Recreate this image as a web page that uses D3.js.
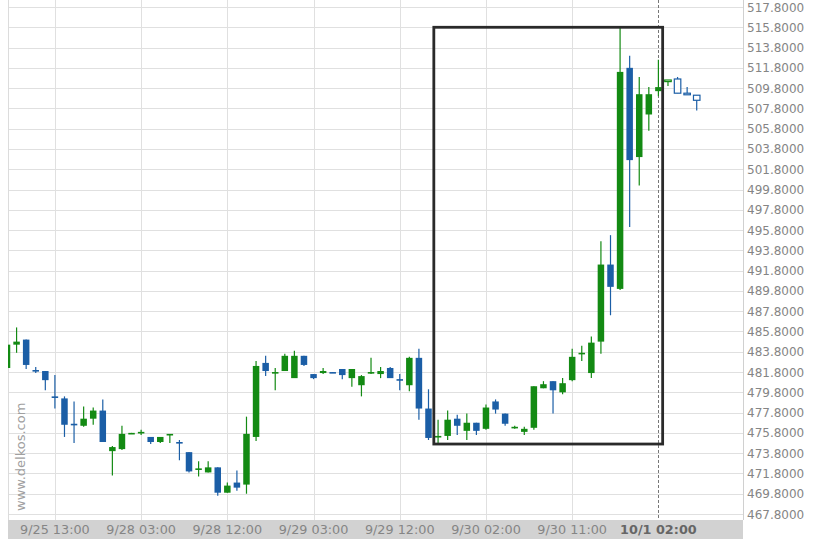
<!DOCTYPE html>
<html>
<head>
<meta charset="utf-8">
<script src="https://cdn.jsdelivr.net/npm/d3@7/dist/d3.min.js"></script>
<style>
  html, body { margin: 0; padding: 0; background: #ffffff; }
  svg { display: block; }
</style>
</head>
<body>
<svg id="chart" width="822" height="548"></svg>
<script>
// ---------- DATA ----------
const opens  = [482.2,484.5,485.0,482.0,481.9,479.4,479.2,476.7,476.5,477.2,
                478.0,474.0,474.2,475.7,475.8,475.4,474.9,475.6,474.9,473.9,
                472.2,471.9,472.4,469.9,470.9,470.7,475.4,482.7,481.7,481.9,
                481.2,483.4,481.6,481.7,481.8,482.1,481.2,480.5,481.7,481.6,
                482.2,481.1,480.5,483.2,478.2,475.4,475.5,477.2,476.0,476.8,
                476.2,478.9,477.7,476.3,475.9,476.3,480.2,480.9,479.8,481.0,
                483.6,481.7,484.8,492.4,490.0,511.8,503.0,507.2,509.5,510.5,
                510.7,509.3,509.1];
const highs  = [484.5,486.2,485.0,482.3,481.9,481.5,479.4,478.9,478.4,478.3,
                479.1,474.5,476.5,475.8,476.1,475.4,475.4,475.7,475.1,473.9,
                473.0,473.0,472.4,470.9,472.1,477.4,482.9,483.4,482.2,483.6,
                483.9,483.4,481.6,482.2,481.8,482.1,482.1,481.5,483.2,482.3,
                482.3,481.6,483.3,484.1,480.1,477.1,478.0,477.6,477.7,476.8,
                478.6,479.1,477.7,476.5,476.4,480.4,480.9,480.9,481.2,484.1,
                484.4,485.3,494.7,495.3,515.8,513.0,510.9,509.9,512.6,510.6,
                510.9,509.9,509.1];
const lows   = [482.2,483.7,482.1,481.7,480.0,478.2,475.4,474.8,476.4,476.6,
                474.9,471.6,474.1,475.7,475.6,474.7,474.8,474.8,473.1,471.9,
                471.5,471.9,469.6,469.9,470.1,469.8,475.0,481.4,480.0,481.9,
                481.2,482.4,481.1,481.6,481.7,481.1,480.35,479.4,481.6,481.2,
                481.2,480.0,479.9,477.1,475.1,474.7,475.1,475.6,475.1,475.6,
                476.1,477.7,476.5,476.2,475.6,476.1,480.2,477.7,479.6,480.9,
                482.9,481.2,483.6,487.4,489.9,496.1,500.2,505.6,509.0,510.0,
                509.3,509.2,507.6];
const closes = [484.5,484.8,482.5,481.9,481.0,479.3,476.6,476.6,477.2,478.0,
                474.9,474.4,475.7,475.8,475.9,474.9,475.4,475.7,474.8,472.0,
                472.3,472.4,469.9,470.6,470.4,475.7,482.4,481.9,481.8,483.4,
                483.4,482.5,481.2,481.9,481.7,481.5,482.1,481.4,481.8,481.9,
                481.2,481.0,483.2,478.2,475.3,475.5,477.1,476.5,476.8,476.0,
                478.3,478.1,476.7,476.4,476.2,480.4,480.6,480.0,480.7,483.3,
                483.7,484.7,492.4,490.2,511.4,502.7,509.2,509.2,509.9,510.6,
                509.3,509.2,508.6];
const firstHollow = 69;          // candles after the current bar are drawn hollow
const boxStart = 45, boxEnd = 68; // highlighted pattern range
const currentBar = 68;           // dashed marker

const xTickIdx    = [5, 14, 23, 32, 41, 50, 59, 68];
const xTickLabels = ["9/25 13:00","9/28 03:00","9/28 12:00","9/29 03:00",
                     "9/29 12:00","9/30 02:00","9/30 11:00","10/1 02:00"];
const yTicks = d3.range(0, 26).map(k => 467.8 + 2 * k);

// ---------- LAYOUT ----------
const plot = { left: 8, right: 743, top: 0, bottom: 520 };
const GREEN = "#138a13", BLUE = "#1b5ea6";

const svg = d3.select("#chart");

const x = d3.scaleLinear().domain([0, 68]).range([7.0, 658.4]);
const y = d3.scaleLinear().domain([467.8, 517.8]).range([514, 7]);

svg.append("defs").append("clipPath").attr("id", "clip")
  .append("rect").attr("x", plot.left).attr("y", plot.top)
  .attr("width", plot.right - plot.left).attr("height", plot.bottom - plot.top);

// grid
const grid = svg.append("g");
grid.selectAll("line.h").data(yTicks).enter().append("line")
  .attr("x1", plot.left).attr("x2", plot.right)
  .attr("y1", d => Math.round(y(d)) + 0.5).attr("y2", d => Math.round(y(d)) + 0.5)
  .attr("stroke", "#e0e0e0").attr("stroke-width", 1);
grid.selectAll("line.v").data(xTickIdx.slice(0, -1)).enter().append("line")
  .attr("x1", d => Math.round(x(d)) + 0.5).attr("x2", d => Math.round(x(d)) + 0.5)
  .attr("y1", plot.top).attr("y2", plot.bottom)
  .attr("stroke", "#e0e0e0").attr("stroke-width", 1);

// plot border lines (left & right)
svg.append("line").attr("x1", plot.left + 0.5).attr("x2", plot.left + 0.5)
  .attr("y1", plot.top).attr("y2", plot.bottom).attr("stroke", "#dcdcdc");
svg.append("line").attr("x1", plot.right + 0.5).attr("x2", plot.right + 0.5)
  .attr("y1", plot.top).attr("y2", plot.bottom).attr("stroke", "#d0d0d0");

// watermark
svg.append("text")
  .attr("transform", "translate(25,511) rotate(-90)")
  .attr("font-family", "DejaVu Sans, sans-serif").attr("font-size", 13)
  .attr("fill", "#a0a0a0").text("www.delkos.com");

// current bar dashed marker
svg.append("line")
  .attr("x1", Math.round(x(currentBar)) + 0.5).attr("x2", Math.round(x(currentBar)) + 0.5)
  .attr("y1", plot.top).attr("y2", plot.bottom)
  .attr("stroke", "#777").attr("stroke-width", 1).attr("stroke-dasharray", "3,2");

// candles
const data = opens.map((o, i) => ({ i, o, h: highs[i], l: lows[i], c: closes[i] }));
const cg = svg.append("g").attr("clip-path", "url(#clip)");
const bw = 6.5;
const candle = cg.selectAll("g.c").data(data).enter().append("g");
candle.append("line")
  .attr("x1", d => x(d.i)).attr("x2", d => x(d.i))
  .attr("y1", d => y(d.h)).attr("y2", d => y(d.l))
  .attr("stroke", d => d.c >= d.o ? GREEN : BLUE).attr("stroke-width", 1.2);
candle.append("rect")
  .attr("x", d => x(d.i) - bw / 2)
  .attr("y", d => y(Math.max(d.o, d.c)))
  .attr("width", bw)
  .attr("height", d => Math.max(1.6, Math.abs(y(d.o) - y(d.c))))
  .attr("fill", d => d.i >= firstHollow ? "#ffffff" : (d.c >= d.o ? GREEN : BLUE))
  .attr("stroke", d => d.i >= firstHollow ? (d.c >= d.o ? GREEN : BLUE) : "none")
  .attr("stroke-width", 1.2);

// highlight box
const boxHigh = d3.max(highs.slice(boxStart, boxEnd + 1));
const boxLow = d3.min(lows.slice(boxStart, boxEnd + 1));
svg.append("rect")
  .attr("x", x(boxStart) - bw / 2 - 1).attr("y", y(boxHigh))
  .attr("width", (x(boxEnd) + bw / 2 + 1) - (x(boxStart) - bw / 2 - 1))
  .attr("height", y(boxLow) - y(boxHigh))
  .attr("fill", "none").attr("stroke", "#2a2a2a").attr("stroke-width", 2.8);

// x axis band
svg.append("rect").attr("x", plot.left).attr("y", plot.bottom)
  .attr("width", plot.right - plot.left).attr("height", 19).attr("fill", "#d2d2d2");
const xa = svg.append("g");
xa.selectAll("text").data(xTickIdx).enter().append("text")
  .attr("x", d => x(d)).attr("y", plot.bottom + 14)
  .attr("text-anchor", "middle")
  .attr("font-family", "DejaVu Sans, sans-serif").attr("font-size", 12.8)
  .attr("font-weight", (d, k) => k === xTickIdx.length - 1 ? "bold" : "normal")
  .attr("fill", (d, k) => k === xTickIdx.length - 1 ? "#666" : "#858585")
  .text((d, k) => xTickLabels[k]);

// y axis labels
const ya = svg.append("g");
ya.selectAll("text").data(yTicks).enter().append("text")
  .attr("x", plot.right + 4).attr("y", d => y(d) + 4.5)
  .attr("font-family", "DejaVu Sans, sans-serif").attr("font-size", 12)
  .attr("fill", "#858585")
  .text(d => d.toFixed(4));
</script>
</body>
</html>
